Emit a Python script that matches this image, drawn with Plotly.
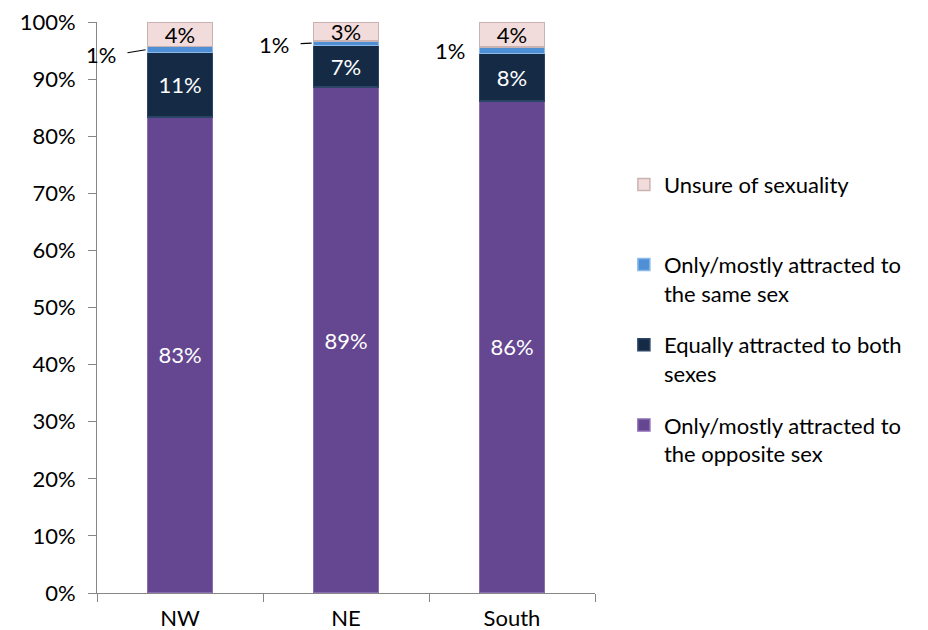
import plotly.graph_objects as go

regions = ["NW", "NE", "South"]
opposite = [83.4, 88.6, 86.2]
both = [11.3, 7.3, 8.3]
same = [1.0, 0.8, 1.1]
unsure = [4.3, 3.3, 4.4]

series = [
    ("Only/mostly attracted to<br>the opposite sex", opposite, "#654690", "#8a6cb3", "white"),
    ("Equally attracted to both<br>sexes", both, "#152a45", "#2c4566", "white"),
    ("Only/mostly attracted to<br>the same sex", same, "#4f8fd6", "#8bb9ea", "black"),
    ("Unsure of sexuality<br> ", unsure, "#f2dcdb", "#c9b3b2", "black"),
]

FONT = "Lato, Carlito, Calibri, sans-serif"
FS = 22
bar_width = 0.39

fig = go.Figure()
for i, (name, vals, col, line, tcol) in enumerate(series):
    show_text = i != 2
    fig.add_trace(go.Bar(
        x=regions, y=vals, name=name, width=bar_width,
        marker=dict(color=col, line=dict(color=line, width=1.5)),
        text=[f"{v:.0f}%" for v in vals] if show_text else None,
        textposition="inside" if show_text else "none",
        insidetextanchor="middle",
        textangle=0,
        textfont=dict(color=tcol, size=FS, family=FONT),
        legendgroup=f"g{i}",
        legendrank=100 - i,
        hoverinfo="skip",
    ))

# 1% labels for the thin "same sex" segment
arrow_cfg = [(-30, 5, True), (-23, 1, True), (-13, 0, False)]
for i, r in enumerate(regions):
    ymid = opposite[i] + both[i] + same[i] / 2
    ax, ay, show = arrow_cfg[i]
    fig.add_annotation(
        x=i - bar_width / 2, y=ymid, xref="x", yref="y",
        text=f"{same[i]:.0f}%", showarrow=True, arrowhead=0,
        arrowwidth=1.2, arrowcolor="black" if show else "rgba(0,0,0,0)",
        ax=ax, ay=ay, xanchor="right",
        font=dict(size=FS, family=FONT, color="black"),
        standoff=2, startstandoff=10,
    )

fig.update_layout(
    barmode="stack",
    width=920, height=622,
    margin=dict(l=89, r=333, t=14, b=37, autoexpand=False),
    plot_bgcolor="white", paper_bgcolor="white",
    font=dict(family=FONT, size=FS, color="black"),
    showlegend=True,
    legend=dict(
        traceorder="grouped", x=1.058, xanchor="left",
        y=0.752, yanchor="top", tracegroupgap=20, valign="top",
        font=dict(size=FS, family=FONT), itemwidth=30,
    ),
    uniformtext=dict(minsize=FS, mode="show"),
)
fig.update_yaxes(
    range=[0, 100], dtick=10, ticksuffix="%", showgrid=False,
    showline=True, linecolor="#868686", linewidth=1,
    ticks="outside", ticklen=8, tickcolor="#868686",
    tickfont=dict(size=FS, family=FONT), zeroline=False,
    ticklabeloverflow="allow", ticklabelstandoff=8,
)
fig.update_xaxes(
    range=[-0.5, 2.5],
    showline=True, linecolor="#868686", linewidth=1,
    ticks="outside", ticklen=8, tickcolor="#868686",
    tickson="boundaries", tickfont=dict(size=FS, family=FONT),
    ticklabeloverflow="allow", ticklabelstandoff=6,
)

fig.write_html("out.html")
